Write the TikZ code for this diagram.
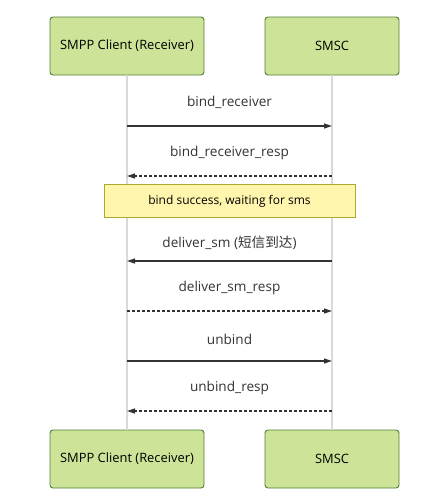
\documentclass[tikz,border=0pt]{standalone}
\usepackage{fontspec}
\setmainfont{Open Sans}
\newfontfamily\cjk{Noto Sans CJK SC}
\usetikzlibrary{arrows.meta}
\definecolor{actfill}{HTML}{CDE498}
\definecolor{actborder}{HTML}{4F7F38}
\definecolor{notefill}{HTML}{FFF5AD}
\definecolor{noteborder}{HTML}{AAAA33}
\definecolor{lifecol}{HTML}{D9D9D9}
\definecolor{msgcol}{HTML}{333333}
\tikzset{
  actor/.style={draw=actborder, fill=actfill, line width=0.9pt, rounded corners=3pt,
    minimum height=58pt, inner sep=0pt, font=\fontsize{12.9}{14}\selectfont, text=black},
  lifeline/.style={draw=lifecol, line width=1.3pt},
  msg/.style={draw=msgcol, line width=1.3pt, -{Triangle[length=8pt,width=5pt]}},
  reply/.style={msg, dash pattern=on 3pt off 2pt},
  msglabel/.style={font=\fontsize{13.6}{15}\selectfont, text=msgcol, inner sep=0pt},
  notebox/.style={draw=noteborder, fill=notefill, line width=0.8pt, minimum width=251pt,
    minimum height=33pt, inner sep=0pt, font=\fontsize{12}{13}\selectfont, text=black}
}
\begin{document}
\begin{tikzpicture}[x=1pt,y=-1pt]
\useasboundingbox (0,0) rectangle (437,504);
% actors
\node[actor, minimum width=154pt] (ct) at (127,46) {SMPP Client (Receiver)};
\node[actor, minimum width=134pt] (st) at (332,46) {SMSC};
\node[actor, minimum width=154pt] (cb) at (127,459) {SMPP Client (Receiver)};
\node[actor, minimum width=134pt] (sb) at (332,459) {SMSC};
% lifelines
\draw[lifeline] (ct.south) -- (cb.north);
\draw[lifeline] (st.south) -- (sb.north);
% message points
\coordinate (c1) at (127,126); \coordinate (s1) at (332,126);
\coordinate (c2) at (127,176); \coordinate (s2) at (332,176);
\coordinate (c3) at (127,261); \coordinate (s3) at (332,261);
\coordinate (c4) at (127,311); \coordinate (s4) at (332,311);
\coordinate (c5) at (127,361); \coordinate (s5) at (332,361);
\coordinate (c6) at (127,411); \coordinate (s6) at (332,411);
% messages
\draw[msg] (c1) -- (s1);
\node[msglabel] (l1) at (229.5,102) {bind\_receiver};
\draw[reply] (s2) -- (c2);
\node[msglabel] (l2) at (229.5,153) {bind\_receiver\_resp};
\node[notebox] (note) at (229.5,201) {bind success, waiting for sms};
\draw[msg] (s3) -- (c3);
\node[msglabel] (l3) at (229.5,243) {deliver\_sm ({\cjk 短信到达})};
\draw[reply] (c4) -- (s4);
\node[msglabel] (l4) at (229.5,288) {deliver\_sm\_resp};
\draw[msg] (c5) -- (s5);
\node[msglabel] (l5) at (229.5,339) {unbind};
\draw[reply] (s6) -- (c6);
\node[msglabel] (l6) at (229.5,388) {unbind\_resp};
\end{tikzpicture}
\end{document}
